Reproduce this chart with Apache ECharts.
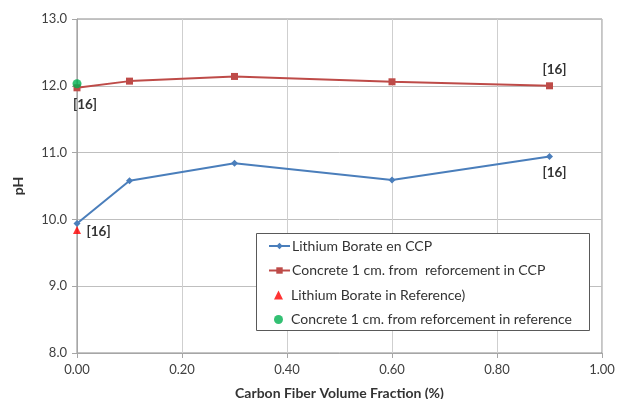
<!DOCTYPE html>
<html><head><meta charset="utf-8">
<script src="https://cdn.jsdelivr.net/npm/echarts@6/dist/echarts.min.js"></script>
<style>html,body{margin:0;padding:0;background:#fff}#c{width:617px;height:399px}</style>
</head><body><div id="c"></div>
<script>
const fractions = [0.0, 0.1, 0.3, 0.6, 0.9];
const lithiumCCP = [9.94, 10.58, 10.84, 10.59, 10.94];
const concreteCCP = [11.97, 12.07, 12.14, 12.06, 12.0];
const lithiumRef = [[0.0, 9.84]];
const concreteRef = [[0.0, 12.03]];
const seriesNames = ['Lithium Borate en CCP', 'Concrete 1 cm. from  reforcement in CCP', 'Lithium Borate in Reference)', 'Concrete 1 cm. from reforcement in reference'];
const refLabel = '[16]';

const FONT = 'Lato';
const lbl = (pos, off) => ({show: true, formatter: refLabel, position: pos, offset: off || [0,0], fontFamily: FONT, fontWeight: 700, fontSize: 13.5, color: '#333'});

const blueData = fractions.map((x, i) => {
  const d = {value: [x, lithiumCCP[i]]};
  if (i === 4) d.label = lbl('bottom', [5, 1]);
  return d;
});
const redData = fractions.map((x, i) => {
  const d = {value: [x, concreteCCP[i]]};
  if (i === 0) d.label = lbl('bottom', [8, 1]);
  if (i === 4) d.label = lbl('top', [5, -1]);
  return d;
});

const legendText = {fontFamily: FONT, fontSize: 14, color: '#333', lineHeight: 16};

const chart = echarts.init(document.getElementById('c'));
chart.setOption({
  animation: false,
  backgroundColor: '#fff',
  grid: {left: 77, right: 15, top: 19, bottom: 46, show: true, borderColor: '#8a8a8a', borderWidth: 1, outerBoundsMode: 'none', containLabel: false},
  xAxis: {
    type: 'value', min: 0, max: 1, interval: 0.2,
    name: 'Carbon Fiber Volume Fraction (%)', nameLocation: 'middle', nameGap: 33,
    nameTextStyle: {fontFamily: FONT, fontWeight: 'bold', fontSize: 14, color: '#333'},
    axisLine: {lineStyle: {color: '#a6a6a6'}},
    axisTick: {show: true, length: 5, inside: false, lineStyle: {color: '#a6a6a6'}},
    axisLabel: {formatter: v => v.toFixed(2), fontFamily: FONT, fontSize: 13, color: '#404040', margin: 10},
    splitLine: {show: true, lineStyle: {color: '#cfcfcf', width: 1}}
  },
  yAxis: {
    type: 'value', min: 8, max: 13, interval: 1,
    name: 'pH', nameLocation: 'middle', nameGap: 52, nameRotate: 90,
    nameTextStyle: {fontFamily: FONT, fontWeight: 'bold', fontSize: 14, color: '#333'},
    axisLine: {show: true, lineStyle: {color: '#a6a6a6'}},
    axisTick: {show: true, length: 5, lineStyle: {color: '#a6a6a6'}},
    axisLabel: {formatter: v => v.toFixed(1), fontFamily: FONT, fontSize: 13, color: '#404040', margin: 10},
    splitLine: {show: true, lineStyle: {color: '#bfbfbf', width: 1}}
  },
  graphic: [{
    type: 'rect', z: 5, silent: true,
    shape: {x: 256.5, y: 233.5, width: 333, height: 97},
    style: {fill: '#fff', stroke: '#595959', lineWidth: 1}
  }],
  legend: [
    {
      orient: 'vertical', left: 268, top: 238, padding: 0, z: 10,
      itemGap: 8.5, itemWidth: 21, itemHeight: 8,
      textStyle: Object.assign({padding: [0, 0, 0, -3]}, legendText),
      data: [seriesNames[0], seriesNames[1]]
    },
    {
      orient: 'vertical', left: 274, top: 287, padding: 0, z: 10,
      itemGap: 8.5, itemWidth: 9, itemHeight: 9,
      textStyle: Object.assign({padding: [0, 0, 0, 3]}, legendText),
      data: [{name: seriesNames[2], icon: 'triangle'}, {name: seriesNames[3], icon: 'circle'}]
    }
  ],
  series: [
    {name: seriesNames[0], type: 'line', data: blueData, symbol: 'diamond', symbolSize: 7,
     lineStyle: {color: '#4a7ebb', width: 2}, itemStyle: {color: '#4a7ebb'}, z: 3},
    {name: seriesNames[1], type: 'line', data: redData, symbol: 'rect', symbolSize: 7,
     lineStyle: {color: '#be4b48', width: 2}, itemStyle: {color: '#be4b48'}, z: 3},
    {name: seriesNames[2], type: 'scatter', data: lithiumRef, symbol: 'triangle', symbolSize: 8,
     itemStyle: {color: '#ff0000'}, z: 4,
     markPoint: {
       silent: true, symbol: 'circle', symbolSize: 1, itemStyle: {color: 'rgba(0,0,0,0)'},
       label: lbl('right', [4, 2]),
       data: lithiumRef.map(p => ({coord: p}))
     }},
    {name: seriesNames[3], type: 'scatter', data: concreteRef, symbol: 'circle', symbolSize: 9,
     itemStyle: {color: '#00b050'}, z: 4}
  ]
});
</script></body></html>
